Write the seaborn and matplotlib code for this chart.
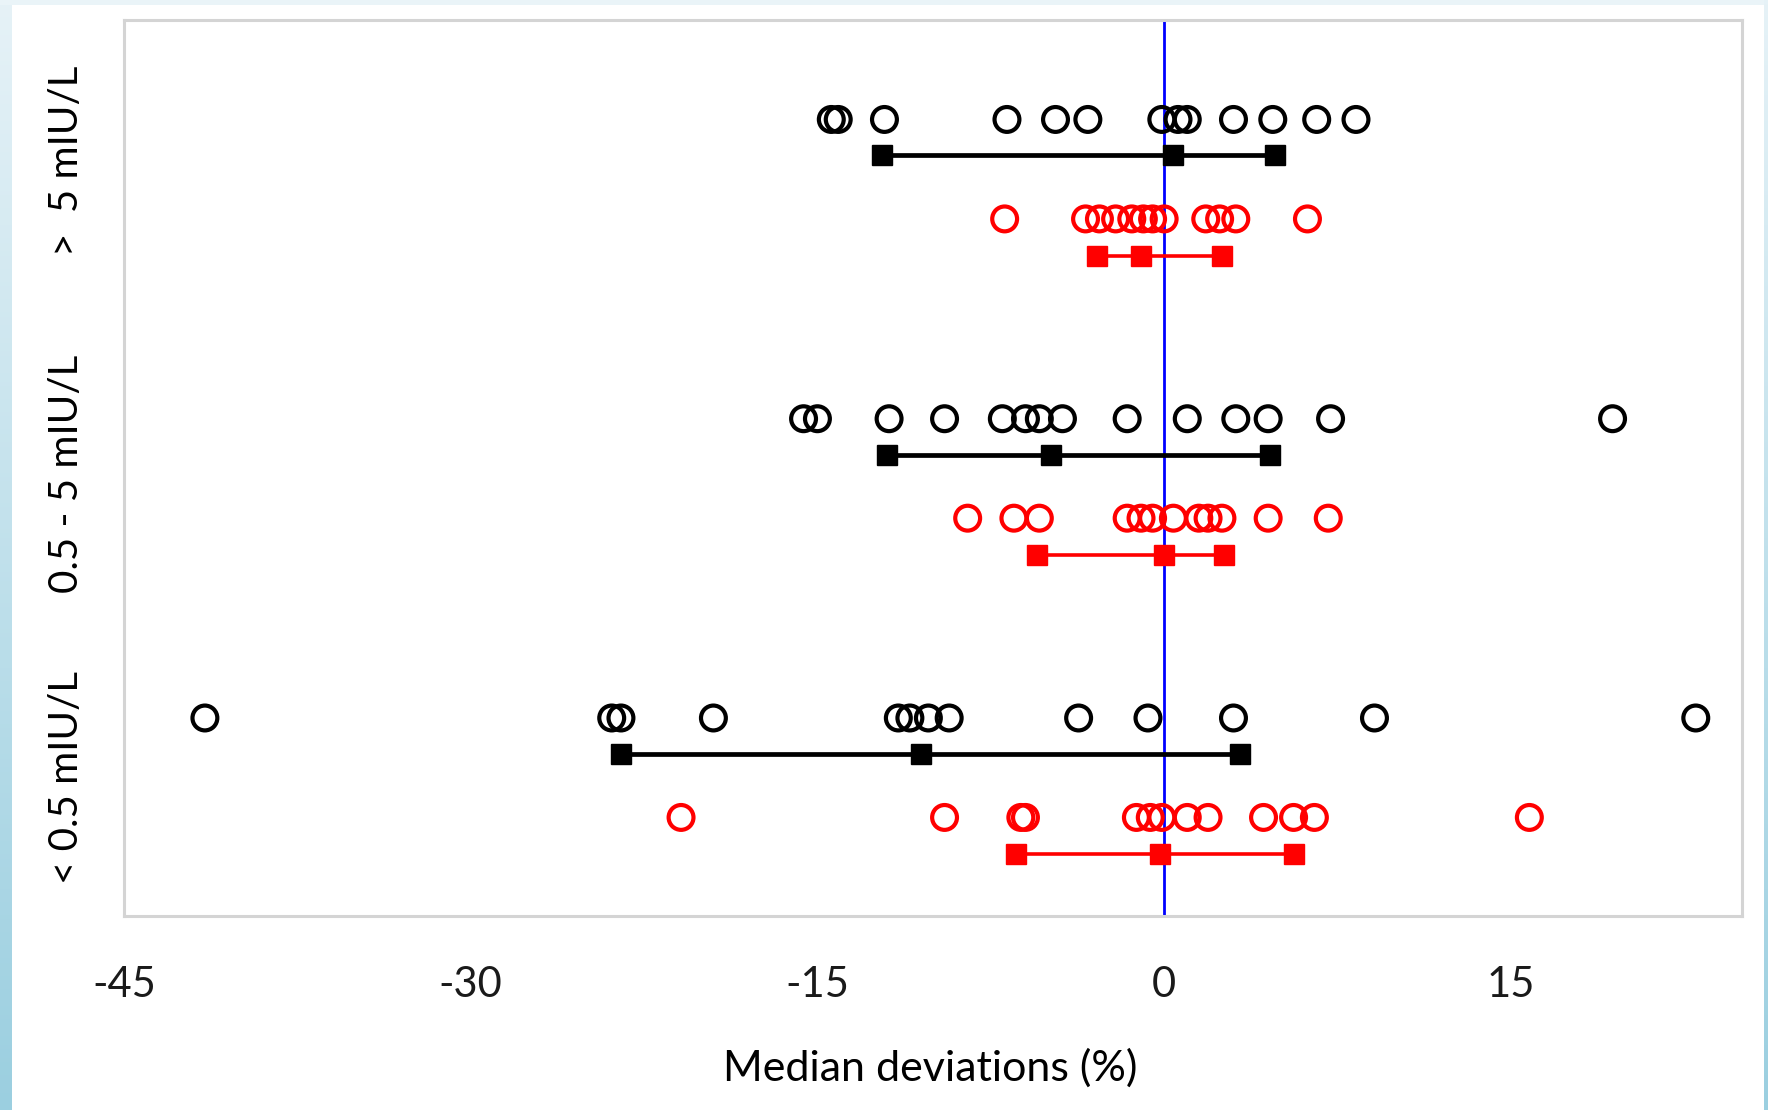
import numpy as np
import pandas as pd
import matplotlib
matplotlib.use("Agg")
import matplotlib.pyplot as plt
import seaborn as sns

# groups, bottom to top
groups = ["< 0.5 mIU/L", "0.5 - 5 mIU/L", ">  5 mIU/L"]

# black series: individual median deviations (%)
black_low = [-41.5, -23.9, -23.5, -19.5, -11.5, -11.0, -10.2, -9.3, -3.7, -0.7, 3.0, 9.1, 23.0]
black_mid = [-15.6, -15.0, -11.9, -9.5, -7.0, -6.0, -5.4, -4.4, -1.6, 1.0, 3.1, 4.5, 7.2, 19.4]
black_high = [-14.4, -14.1, -12.1, -6.8, -4.7, -3.3, -0.1, 0.6, 1.0, 3.0, 4.7, 6.6, 8.3]

# red series
red_low = [-20.9, -9.5, -6.2, -6.0, -1.2, -0.6, -0.1, 1.0, 1.9, 4.3, 5.6, 6.5, 15.8]
red_mid = [-8.5, -6.5, -5.4, -1.6, -1.0, -0.5, 0.4, 1.5, 1.9, 2.5, 4.5, 7.1]
red_high = [-6.9, -3.4, -2.8, -2.1, -1.4, -0.9, -0.5, 0.0, 1.8, 2.4, 3.1, 6.2]

# summary bars (low, median, high)
black_bars = [[-23.5, -10.5, 3.3], [-12.0, -4.9, 4.6], [-12.2, 0.4, 4.8]]
red_bars = [[-6.4, -0.2, 5.6], [-5.5, 0.0, 2.6], [-2.9, -1.0, 2.5]]

x_ticks = [-45, -30, -15, 0, 15]

# layout: vertical position of each row inside a group
group_step = 3.34
row_offset = {"red_bar": 0.69, "red_pts": 1.10, "black_bar": 1.81, "black_pts": 2.21}

sns.set_style("white")
plt.rcParams["font.family"] = ["Lato", "DejaVu Sans"]

fig = plt.figure(figsize=(17.68, 11.10), dpi=100)
fig.patch.set_facecolor("white")

# blue gradient strip on the left, light strip on top
cmap_strip = matplotlib.colors.LinearSegmentedColormap.from_list("strip", ["#e6f2f7", "#9bcfe0"])
grad = np.linspace(0, 1, 256).reshape(-1, 1)
strip = fig.add_axes([0, 0, 12 / 1768, 1])
strip.imshow(grad, aspect="auto", cmap=cmap_strip, extent=[0, 1, 0, 1], origin="upper")
strip.axis("off")
top = fig.add_axes([0, 1 - 5 / 1110, 1, 5 / 1110])
top.set_facecolor("#eaf4f8")
top.set_xticks([]); top.set_yticks([])
for s in top.spines.values():
    s.set_visible(False)
right = fig.add_axes([1 - 4 / 1768, 0, 4 / 1768, 1])
right.imshow(grad, aspect="auto", cmap=cmap_strip, extent=[0, 1, 0, 1], origin="upper")
right.axis("off")

ax = fig.add_axes([124 / 1768, 194 / 1110, (1742 - 124) / 1768, (916 - 20) / 1110])

pts = []
for g, (b, r) in enumerate(zip([black_low, black_mid, black_high], [red_low, red_mid, red_high])):
    for v in b:
        pts.append({"x": v, "y": g * group_step + row_offset["black_pts"], "series": "black"})
    for v in r:
        pts.append({"x": v, "y": g * group_step + row_offset["red_pts"], "series": "red"})
df = pd.DataFrame(pts)

ax.axvline(0, color="#0000ff", lw=2.0, zorder=1)

for name, col in [("black", "black"), ("red", "#ff0000")]:
    sub = df[df["series"] == name]
    sns.scatterplot(data=sub, x="x", y="y", ax=ax, marker="o", s=320,
                    fc="none", ec=col, linewidth=3.0, zorder=3, legend=False)

for g in range(3):
    yb = g * group_step + row_offset["black_bar"]
    ax.plot(black_bars[g], [yb] * 3, color="black", lw=3.4, marker="s", ms=15, zorder=2)
    yr = g * group_step + row_offset["red_bar"]
    ax.plot(red_bars[g], [yr] * 3, color="#ff0000", lw=2.6, marker="s", ms=15, zorder=2)

ax.set_xlim(-45, 25)
ax.set_ylim(0, 10)
ax.set_xticks(x_ticks)
ax.set_xticklabels([str(t) for t in x_ticks], fontsize=30, color="#1a1a1a")
ax.tick_params(axis="x", length=0, pad=36)

label_pos = [1.55, 4.94, 8.43]
ax.set_yticks(label_pos)
ax.set_yticklabels(groups, rotation=90, va="center", ha="right", fontsize=29, color="black")
ax.tick_params(axis="y", length=0, pad=28)

ax.set_xlabel("Median deviations (%)", fontsize=31, color="black")
ax.xaxis.set_label_coords(0.498, -0.148)
ax.set_ylabel("")

for s in ax.spines.values():
    s.set_color("#d4d4d4")
    s.set_linewidth(2.2)

fig.savefig("out.png", dpi=100, facecolor="white")
